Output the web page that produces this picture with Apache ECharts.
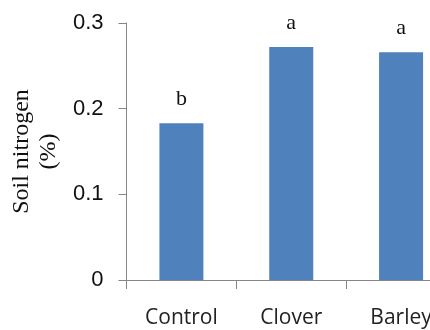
<!DOCTYPE html>
<html>
<head>
<meta charset="utf-8">
<script src="https://cdn.jsdelivr.net/npm/echarts@6/dist/echarts.min.js"></script>
<style>html,body{margin:0;padding:0;background:#fff;overflow:hidden;width:430px;height:330px}#c{width:456px;height:330px}</style>
</head>
<body>
<div id="c"></div>
<script>
var categories = ['Control', 'Clover', 'Barley'];
var nitrogen = [0.183, 0.272, 0.266];
var letters = ['b', 'a', 'a'];
var yTicks = [0, 0.1, 0.2, 0.3];

var chart = echarts.init(document.getElementById('c'), null, {renderer: 'canvas'});
var axisGray = '#868686';
chart.setOption({
  animation: false,
  grid: {left: 126, top: 23, right: 0, bottom: 50, containLabel: false},
  xAxis: {
    type: 'category',
    data: categories,
    axisLine: {lineStyle: {color: axisGray, width: 1}},
    axisTick: {show: true, length: 9, lineStyle: {color: axisGray}},
    axisLabel: {fontFamily: 'Open Sans', fontSize: 21, color: '#222', margin: 28}
  },
  yAxis: {
    type: 'value',
    min: yTicks[0],
    max: yTicks[yTicks.length - 1],
    interval: 0.1,
    splitLine: {show: false},
    axisLine: {show: true, lineStyle: {color: axisGray, width: 1}},
    axisTick: {show: true, length: 8, lineStyle: {color: axisGray}},
    axisLabel: {
      fontFamily: 'Liberation Sans', fontSize: 22, color: '#111', margin: 23,
      formatter: function (v) { return v === 0 ? '0' : v.toFixed(1); }
    },
    name: 'Soil nitrogen\n(%)',
    nameLocation: 'middle',
    nameRotate: 90,
    nameGap: 64,
    nameTextStyle: {fontFamily: 'Liberation Serif', fontSize: 24, color: '#111', lineHeight: 27}
  },
  series: [{
    type: 'bar',
    data: nitrogen,
    barWidth: 44,
    itemStyle: {color: '#4F81BD'},
    label: {
      show: true,
      position: 'top',
      distance: 13,
      fontFamily: 'Liberation Serif',
      fontSize: 22,
      color: '#111',
      formatter: function (p) { return letters[p.dataIndex]; }
    }
  }]
});
</script>
</body>
</html>
